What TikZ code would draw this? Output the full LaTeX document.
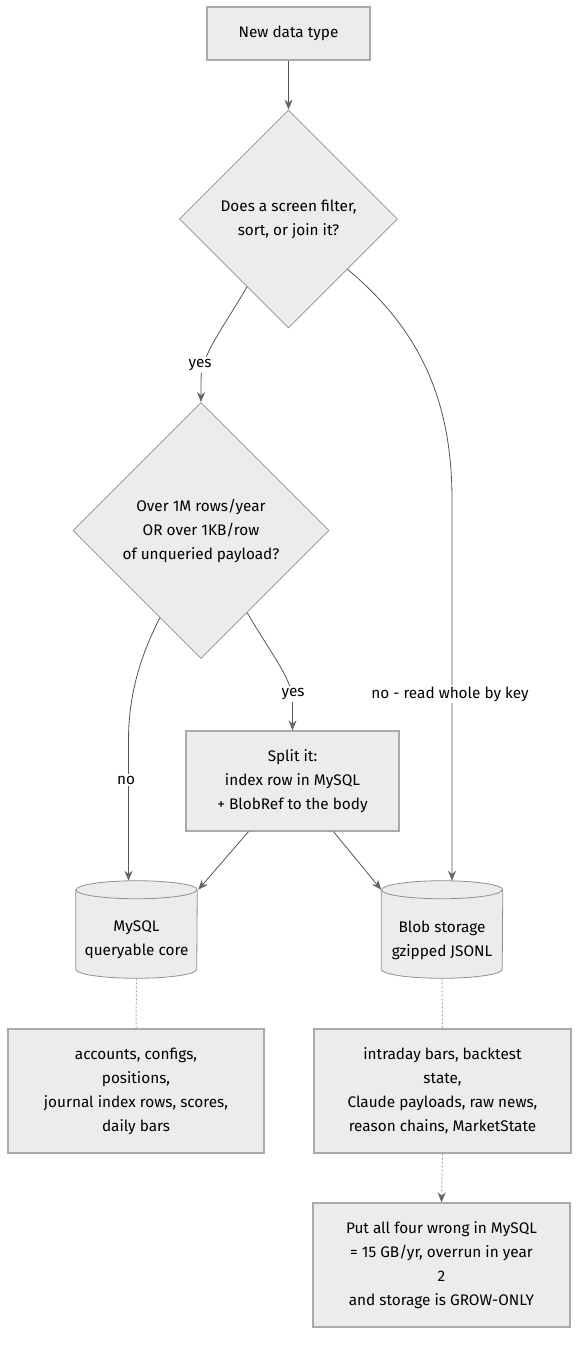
\documentclass[tikz,border=0pt]{standalone}
\usepackage{fontspec}
\setmainfont{Fira Sans}
\usetikzlibrary{shapes.geometric,arrows.meta,calc}
\definecolor{nodefill}{HTML}{ECECEC}
\definecolor{nodeline}{HTML}{AAAAAA}
\definecolor{edgeline}{HTML}{555555}
\definecolor{tipcol}{HTML}{666666}
\begin{document}
\begin{tikzpicture}[x=0.75pt,y=-0.75pt,
  every node/.style={font=\fontsize{11.5}{18}\selectfont, align=center, text=black},
  box/.style={rectangle, draw=nodeline, fill=nodefill, line width=0.9pt, inner sep=0pt},
  decision/.style={diamond, aspect=1, draw=nodeline!85!black, fill=nodefill, line width=0.6pt, inner sep=0pt},
  anchorbox/.style={rectangle, draw=none, inner sep=0pt},
  cyl/.style={draw=nodeline!85!black, fill=nodefill, line width=0.6pt},
  edge/.style={draw=edgeline, line width=0.6pt, -{Stealth[length=7.5pt,width=6pt,color=tipcol]}},
  dotted edge/.style={draw=nodeline, line width=0.75pt, dash pattern=on 1.5pt off 1.5pt},
  lbl/.style={fill=white, inner sep=1.5pt}]
\useasboundingbox (0,0) rectangle (586,1354);

\node[box, minimum width=122.25pt, minimum height=39.75pt] (start) at (288.5,33.5) {New data type};
\node[decision, minimum width=163.5pt, minimum height=163.5pt] (d1) at (288.5,219) {Does a screen filter,\\sort, or join it?};
\node[decision, minimum width=192pt, minimum height=192pt] (d2) at (201,530.5) {Over 1M rows/year\\OR over 1KB/row\\of unqueried payload?};
\node[box, minimum width=159.75pt, minimum height=75pt] (split) at (292.5,781) {Split it:\\index row in MySQL\\+ BlobRef to the body};

% cylinders
\node[anchorbox, minimum width=90.75pt, minimum height=72.75pt] (mysql) at (136.5,929.5) {};
\node[anchorbox, minimum width=90.75pt, minimum height=72.75pt] (blob) at (442,929.5) {};
\foreach \c in {mysql,blob}{
  \path[cyl] ($(\c.north west)+(0,9)$) -- ($(\c.south west)+(0,-9)$)
     arc[start angle=180, end angle=0, x radius=60.5, y radius=9]
     -- ($(\c.north east)+(0,9)$)
     arc[start angle=0, end angle=-180, x radius=60.5, y radius=9] -- cycle;
  \draw[draw=nodeline!85!black, line width=0.6pt] ($(\c.north west)+(0,9)$)
     arc[start angle=180, end angle=0, x radius=60.5, y radius=9];
}
\node (mysqltxt) at ($(mysql)+(0,10.5)$) {MySQL\\queryable core};
\node (blobtxt) at ($(blob)+(0,10.5)$) {Blob storage\\gzipped JSONL};

\node[box, minimum width=192pt, minimum height=93pt] (core) at (136,1091) {accounts, configs,\\positions,\\journal index rows, scores,\\daily bars};
\node[box, minimum width=192.75pt, minimum height=93pt] (blobs) at (442.5,1091) {intraday bars, backtest\\state,\\Claude payloads, raw news,\\reason chains, MarketState};
\node[box, minimum width=192.75pt, minimum height=93pt] (cost) at (441.5,1265) {Put all four wrong in MySQL\\= 15 GB/yr, overrun in year\\2\\and storage is GROW-ONLY};

% connectors
\draw[edge] (start.south) -- (d1.north);
\draw[edge] ($(d1.south)!0.38!(d1.west)$) .. controls (222,330) and (201,355) .. (201,380) -- (d2.north);
\node[lbl] (lyes1) at (200,365) {yes};

\draw[edge] ($(d1.south)!0.54!(d1.east)$) .. controls (420,330) and (452,400) .. (452,500) -- ($(blob.north)+(10,0)$);
\node[lbl] (lno1) at (450,694) {no - read whole by key};

\draw[edge] ($(d2.south)!0.32!(d2.west)$) .. controls (138,660) and (128.5,700) .. (128.5,740) -- ($(mysql.north)+(-8,0)$);
\node[lbl] (lno2) at (126,780) {no};

\draw[edge] ($(d2.south)!0.36!(d2.east)$) .. controls (272,655) and (292.5,680) .. (292.5,700) -- (split.north);
\node[lbl] (lyes2) at (293,694) {yes};

\draw[edge] ($(split.south)+(-44,0)$) -- ($(mysql.north east)+(1,9)$);
\draw[edge] ($(split.south)+(41,0)$) -- ($(blob.north west)+(0,9)$);

\draw[dotted edge] (mysql.south) -- (core.north);
\draw[dotted edge] (blob.south) -- (blobs.north);
\draw[dotted edge, -{Stealth[length=7.5pt,width=6pt,color=tipcol]}] (blobs.south) -- (cost.north);
\end{tikzpicture}
\end{document}
